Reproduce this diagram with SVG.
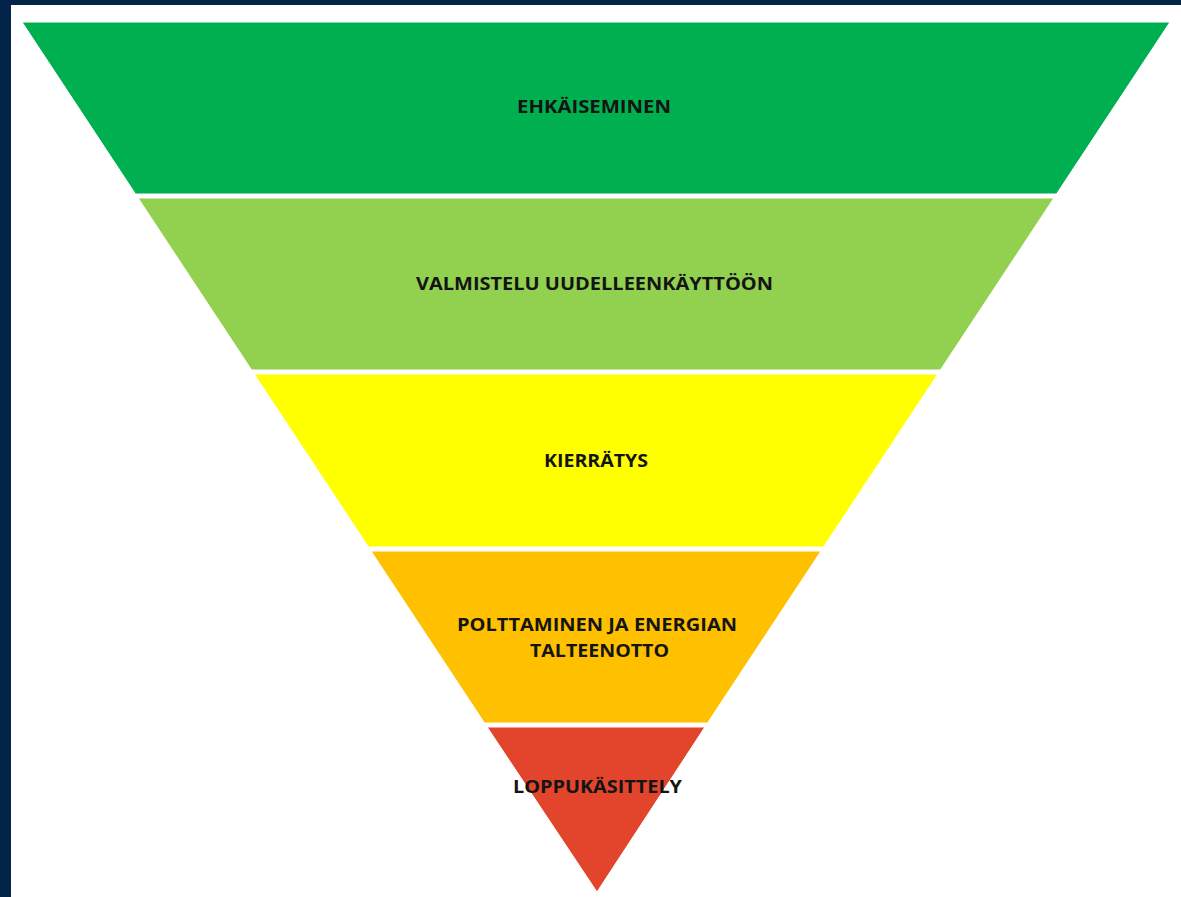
<svg xmlns="http://www.w3.org/2000/svg" width="1181" height="897" viewBox="0 0 1181 897">
<style>
.lbl{font-family:"Open Sans","Liberation Sans",sans-serif;font-weight:bold;font-size:18px;fill:#141414;text-anchor:middle}
.band{stroke:#ffffff;stroke-width:1}
</style>
<rect x="0" y="0" width="1181" height="897" fill="#ffffff"/>
<rect x="0" y="0" width="1181" height="5" fill="#022448"/>
<rect x="0" y="0" width="11" height="897" fill="#022448"/>
<g id="ehkaiseminen">
<polygon class="band" points="22,22 1170,22 1056.5,194 135.5,194" fill="#00B050"/>
<text class="lbl" x="594" y="113" textLength="154" lengthAdjust="spacingAndGlyphs">EHKÄISEMINEN</text>
</g>
<g id="valmistelu">
<polygon class="band" points="138.1,198 1053.9,198 940.4,370 251.6,370" fill="#92D050"/>
<text class="lbl" x="594.5" y="290" textLength="357" lengthAdjust="spacingAndGlyphs">VALMISTELU UUDELLEENKÄYTTÖÖN</text>
</g>
<g id="kierratys">
<polygon class="band" points="254.2,374 937.8,374 823.6,547 368.4,547" fill="#FFFF00"/>
<text class="lbl" x="596" y="467" textLength="104" lengthAdjust="spacingAndGlyphs">KIERRÄTYS</text>
</g>
<g id="polttaminen">
<polygon class="band" points="371,551 821,551 707.5,723 484.5,723" fill="#FFC000"/>
<text class="lbl" x="597" y="631" textLength="280" lengthAdjust="spacingAndGlyphs">POLTTAMINEN JA ENERGIAN</text>
<text class="lbl" x="599.5" y="657" textLength="139" lengthAdjust="spacingAndGlyphs">TALTEENOTTO</text>
</g>
<g id="loppukasittely">
<polygon class="band" points="487.1,727 704.9,727 597,892" fill="#E2452B"/>
<text class="lbl" x="597.5" y="793" textLength="169" lengthAdjust="spacingAndGlyphs">LOPPUKÄSITTELY</text>
</g>
<g id="connectors"></g>
</svg>
